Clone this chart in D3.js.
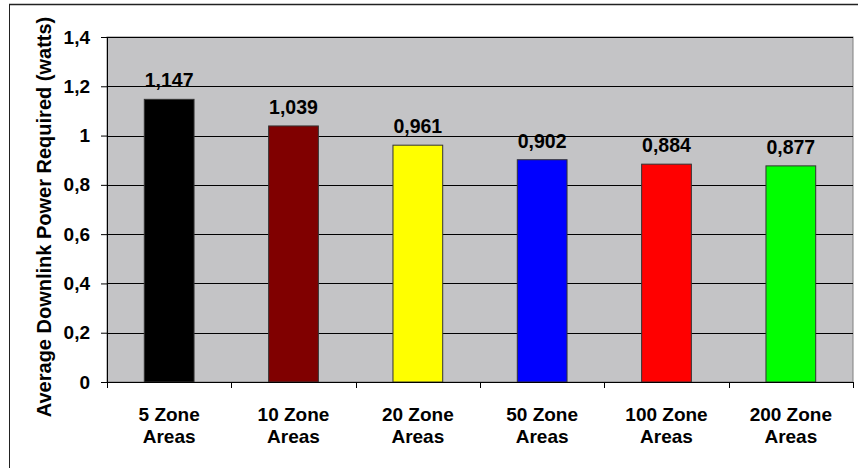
<!DOCTYPE html>
<html>
<head>
<meta charset="utf-8">
<script src="https://cdn.jsdelivr.net/npm/d3@7"></script>
<style>
  body { margin: 0; background: #fff; }
  text { font-family: "Liberation Sans", Arial, sans-serif; font-weight: bold; }
</style>
</head>
<body>
<script>
// chart data
const categories = ["5 Zone Areas", "10 Zone Areas", "20 Zone Areas", "50 Zone Areas", "100 Zone Areas", "200 Zone Areas"];
const values = [1.147, 1.039, 0.961, 0.902, 0.884, 0.877];
const valueLabels = ["1,147", "1,039", "0,961", "0,902", "0,884", "0,877"];
const barColors = ["#000000", "#800000", "#FFFF00", "#0000FF", "#FF0000", "#00FF00"];
const yTicks = [0, 0.2, 0.4, 0.6, 0.8, 1, 1.2, 1.4];

const W = 858, H = 468;
const pLeft = 107, pRight = 853, pTop = 37, pBottom = 382;

let svg = d3.select("body").append("svg")
    .attr("width", W)
    .attr("height", H);

// page frame (screenshot edge)
svg.append("line").attr("x1", 9.5).attr("x2", 9.5).attr("y1", 4).attr("y2", H)
    .attr("stroke", "#222").attr("stroke-width", 1);
svg.append("line").attr("x1", 9).attr("x2", W).attr("y1", 4.5).attr("y2", 4.5)
    .attr("stroke", "#222").attr("stroke-width", 1.5);

let x = d3.scaleBand().domain(categories).range([pLeft, pRight]).paddingInner(0).paddingOuter(0);
let y = d3.scaleLinear().domain([0, 1.4]).range([pBottom, pTop]);

// plot area
svg.append("rect")
    .attr("x", pLeft).attr("y", pTop)
    .attr("width", pRight - pLeft).attr("height", pBottom - pTop)
    .attr("fill", "#C4C4C6")
    .attr("stroke", "#808080");

// gridlines
svg.selectAll(".grid")
    .data(yTicks.filter(d => d > 0))
    .enter()
    .append("line")
    .attr("x1", pLeft).attr("x2", pRight)
    .attr("y1", d => Math.round(y(d)) + 0.5)
    .attr("y2", d => Math.round(y(d)) + 0.5)
    .attr("stroke", "#000");

// bars
const bw = x.bandwidth() * 0.4;
svg.selectAll(".bar")
    .data(values)
    .enter()
    .append("rect")
    .attr("x", (d, i) => x(categories[i]) + (x.bandwidth() - bw) / 2)
    .attr("y", d => y(d))
    .attr("width", bw)
    .attr("height", d => pBottom - y(d))
    .attr("fill", (d, i) => barColors[i])
    .attr("stroke", "#333")
    .attr("stroke-width", 1);

// value labels
svg.selectAll(".val")
    .data(values)
    .enter()
    .append("text")
    .attr("x", (d, i) => x(categories[i]) + x.bandwidth() / 2)
    .attr("y", d => y(d) - 12)
    .attr("text-anchor", "middle")
    .attr("font-size", 19.5)
    .text((d, i) => valueLabels[i]);

// y axis
let yAxis = d3.axisLeft(y).tickValues(yTicks).tickSize(6).tickPadding(11)
    .tickFormat(d => String(d).replace(".", ","));
svg.append("g")
    .attr("transform", `translate(${pLeft},0)`)
    .call(yAxis)
    .call(g => g.select(".domain").remove())
    .call(g => g.selectAll("text").attr("font-size", 19).attr("fill", "#000")
        .style("font-family", "'Liberation Sans', Arial, sans-serif"));
svg.append("line").attr("x1", pLeft + 0.5).attr("x2", pLeft + 0.5).attr("y1", pTop).attr("y2", pBottom)
    .attr("stroke", "#000");

// x axis
let xAxis = d3.axisBottom(x).tickSize(0).tickFormat("");
svg.append("g")
    .attr("transform", `translate(0,${pBottom})`)
    .call(xAxis)
    .call(g => g.select(".domain").attr("stroke", "#000"));
svg.selectAll(".xtick")
    .data(categories.concat(["end"]))
    .enter()
    .append("line")
    .attr("x1", (d, i) => Math.round(pLeft + i * x.step()) + 0.5)
    .attr("x2", (d, i) => Math.round(pLeft + i * x.step()) + 0.5)
    .attr("y1", pBottom)
    .attr("y2", pBottom + 6)
    .attr("stroke", "#000");

// x labels (two lines)
let xl = svg.selectAll(".xl")
    .data(categories)
    .enter()
    .append("text")
    .attr("text-anchor", "middle")
    .attr("font-size", 19)
    .attr("x", d => x(d) + x.bandwidth() / 2)
    .attr("y", 421);
xl.append("tspan")
    .attr("x", d => x(d) + x.bandwidth() / 2)
    .text(d => d.split(" ").slice(0, 2).join(" "));
xl.append("tspan")
    .attr("x", d => x(d) + x.bandwidth() / 2)
    .attr("dy", 22)
    .text(d => d.split(" ")[2]);

// y title
svg.append("text")
    .attr("transform", `translate(51,217) rotate(-90)`)
    .attr("text-anchor", "middle")
    .attr("font-size", 20)
    .text("Average Downlink Power Required (watts)");
</script>
</body>
</html>
